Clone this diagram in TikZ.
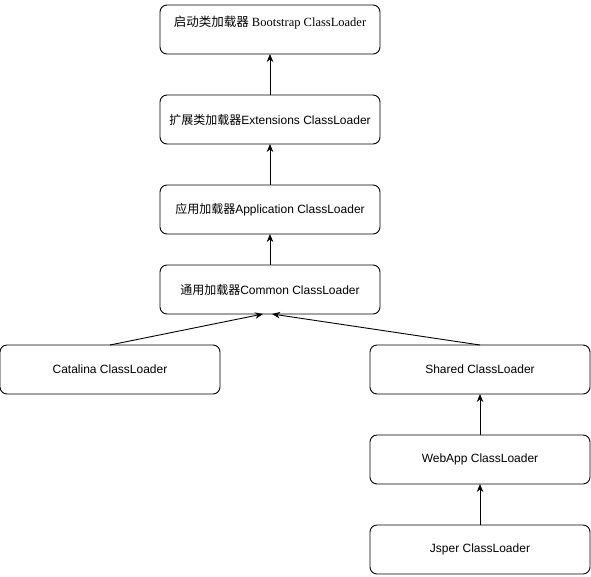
\documentclass[tikz,border=0pt]{standalone}
\usepackage{fontspec}
\setmainfont{Liberation Serif}
\setsansfont{Liberation Sans}
\newfontfamily\cjk{Noto Sans CJK SC}
\usepackage{tikz}
\usetikzlibrary{positioning, arrows.meta}
\tikzset{
    block/.style={
        draw, rounded corners = 7pt,
        line width = 0.9pt,
        outer sep = 0pt,
        minimum width = 220pt,
        minimum height = 49pt,
        align = center,
        font = \sffamily\fontsize{12}{14}\selectfont
    },
    line/.style = {line width = 0.9pt, -{Stealth[length=8pt, width=6.5pt]}}
}

\begin{document}
\begin{tikzpicture}[x=1pt, y=1pt]

    \useasboundingbox (0,0) rectangle (591,-576);

    \node[block, font = \rmfamily\fontsize{12.5}{14}\selectfont] (boot) at (270,-29.5) {\raisebox{3pt}[0pt][0pt]{{\cjk 启动类加载器} Bootstrap ClassLoader}};
    \node[block, below = 41pt of boot] (ext) {{\cjk 扩展类加载器}Extensions ClassLoader};
    \node[block, below = 41pt of ext] (app) {{\cjk 应用加载器}Application ClassLoader};
    \node[block, below = 31pt of app] (common) {{\cjk 通用加载器}Common ClassLoader};

    % two branches under common
    \node[block, below = 31pt of common, xshift = -160pt] (catalina) {Catalina ClassLoader};
    \node[block, below = 31pt of common, xshift = 210pt] (shared) {Shared ClassLoader};
    \node[block, below = 41pt of shared] (webapp) {WebApp ClassLoader};
    \node[block, below = 41pt of webapp] (jsper) {Jsper ClassLoader};

    \draw[line] (ext.north) -- (boot.south);
    \draw[line] (app.north) -- (ext.south);
    \draw[line] (common.north) -- (app.south);
    \draw[line] (catalina.north) -- ([xshift=-7pt]common.south);
    \draw[line] (shared.north) -- ([xshift=2pt]common.south);
    \draw[line] (webapp.north) -- (shared.south);
    \draw[line] (jsper.north) -- (webapp.south);

\end{tikzpicture}
\end{document}
